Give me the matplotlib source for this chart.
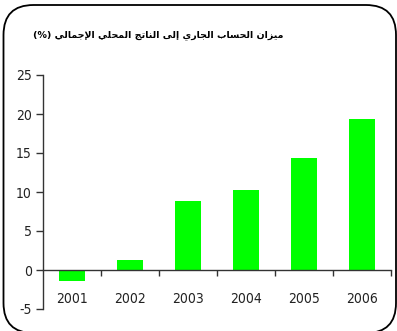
import matplotlib
matplotlib.use('Agg')
import matplotlib.pyplot as plt
from matplotlib.patches import FancyBboxPatch
from matplotlib.transforms import IdentityTransform
from matplotlib.ticker import FixedLocator

# Data
years = ['2001', '2002', '2003', '2004', '2005', '2006']
balance = [-1.4, 1.3, 8.8, 10.3, 14.3, 19.4]
y_ticks = [-5, 0, 5, 10, 15, 20, 25]
title_ar = 'ميزان الحساب الجاري إلى الناتج المحلي الإجمالي'
title_suffix = '(%)'

# Minimal Arabic shaping (matplotlib has no complex text layout)
# letter: (isolated, final, initial, medial); two-form letters join on the right only
FORMS = {
    'ا': ('\uFE8D', '\uFE8E'), 'إ': ('\uFE87', '\uFE88'),
    'ر': ('\uFEAD', '\uFEAE'), 'ز': ('\uFEAF', '\uFEB0'),
    'ى': ('\uFEEF', '\uFEF0'),
    'ب': ('\uFE8F', '\uFE90', '\uFE91', '\uFE92'),
    'ت': ('\uFE95', '\uFE96', '\uFE97', '\uFE98'),
    'ج': ('\uFE9D', '\uFE9E', '\uFE9F', '\uFEA0'),
    'ح': ('\uFEA1', '\uFEA2', '\uFEA3', '\uFEA4'),
    'س': ('\uFEB1', '\uFEB2', '\uFEB3', '\uFEB4'),
    'ل': ('\uFEDD', '\uFEDE', '\uFEDF', '\uFEE0'),
    'م': ('\uFEE1', '\uFEE2', '\uFEE3', '\uFEE4'),
    'ن': ('\uFEE5', '\uFEE6', '\uFEE7', '\uFEE8'),
    'ي': ('\uFEF1', '\uFEF2', '\uFEF3', '\uFEF4'),
}
LAM_ALEF = {'ا': ('\uFEFB', '\uFEFC'), 'إ': ('\uFEF9', '\uFEFA')}


def shape_word(word):
    chars = list(word)
    out = []
    i = 0
    prev_joins = False
    while i < len(chars):
        c = chars[i]
        if c == 'ل' and i + 1 < len(chars) and chars[i + 1] in LAM_ALEF:
            lig = LAM_ALEF[chars[i + 1]]
            out.append(lig[1] if prev_joins else lig[0])
            prev_joins = False
            i += 2
            continue
        f = FORMS.get(c)
        if f is None:
            out.append(c)
            prev_joins = False
            i += 1
            continue
        nxt = chars[i + 1] if i + 1 < len(chars) else None
        next_joins = nxt in FORMS and len(f) == 4
        if len(f) == 2:
            out.append(f[1] if prev_joins else f[0])
            prev_joins = False
        else:
            if prev_joins and next_joins:
                out.append(f[3])
            elif prev_joins:
                out.append(f[1])
            elif next_joins:
                out.append(f[2])
            else:
                out.append(f[0])
            prev_joins = next_joins
        i += 1
    return ''.join(out)


def visual(text):
    shaped = ' '.join(shape_word(w) for w in text.split(' '))
    return shaped[::-1]


fig = plt.figure(figsize=(3.97, 3.31), dpi=100)
ax = fig.add_axes([43 / 397, 22 / 331, 348 / 397, 234 / 331])

x = range(len(years))
ax.bar(x, balance, width=0.44, color='#00FF00', zorder=2)

ax.set_xlim(-0.5, len(years) - 0.5)
ax.set_ylim(-5, 25)
ax.set_yticks(y_ticks)
ax.set_yticklabels([str(v) for v in y_ticks])
ax.set_xticks(list(x))
ax.set_xticklabels(years)
ax.xaxis.set_minor_locator(FixedLocator([i + 0.5 for i in x]))

ax.spines['top'].set_visible(False)
ax.spines['right'].set_visible(False)
ax.spines['bottom'].set_position(('data', 0))
for s in ('left', 'bottom'):
    ax.spines[s].set_color('#333333')
    ax.spines[s].set_linewidth(1.0)

ax.tick_params(axis='y', direction='out', length=5, width=1, color='#333333',
               pad=3, labelsize=10.5, labelcolor='#222222')
ax.tick_params(axis='x', which='major', length=0, pad=16, labelsize=10.5,
               labelcolor='#222222')
ax.tick_params(axis='x', which='minor', direction='out', length=4, width=1,
               color='#333333')
for lbl in ax.get_xticklabels() + ax.get_yticklabels():
    lbl.set_family(['DejaVu Sans'])
    lbl.set_stretch('condensed')
    lbl.set_fontsize(10)

fig.text(33 / 397, 1 - 35 / 331, title_suffix + ' ' + visual(title_ar),
         ha='left', va='center', fontsize=6.8, fontweight='bold',
         family=['DejaVu Sans'])

# rounded frame around the whole chart (bottom edge just off the canvas)
frame = FancyBboxPatch((3.5, -2), 392.5, 328,
                       boxstyle='round,pad=0,rounding_size=30',
                       transform=IdentityTransform(), fill=False,
                       edgecolor='black', linewidth=1.3)
fig.patches.append(frame)

fig.savefig('out.png', dpi=100)
